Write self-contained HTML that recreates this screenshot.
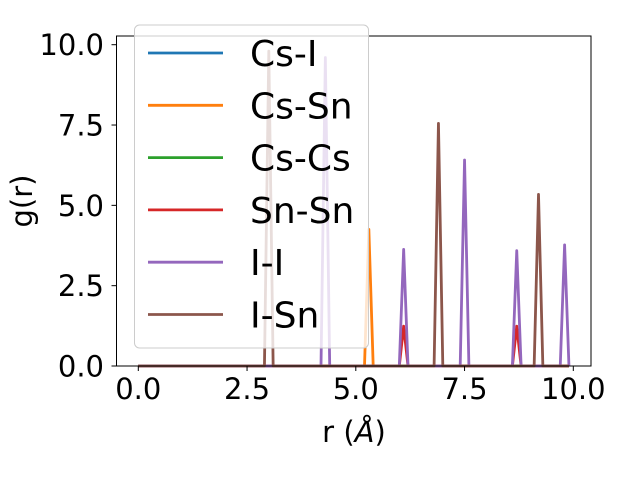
<!DOCTYPE html>
<html><head><meta charset="utf-8">
<style>
html,body{margin:0;padding:0;background:#fff;}
svg{display:block;font-family:"DejaVu Sans","Liberation Sans",sans-serif;}
</style></head>
<body>
<svg id="chart" width="640" height="480" viewBox="0 0 640 480">
<rect x="0" y="0" width="640" height="480" fill="#fff"/>
<g id="lines"></g>
<rect x="116.5" y="36" width="474.5" height="330" fill="none" stroke="#000" stroke-width="1"/>
<g id="xticks"></g>
<g id="yticks"></g>
<text x="354" y="442" font-size="29" text-anchor="middle">r (<tspan font-style="italic">Å</tspan>)</text>
<text transform="translate(32,201) rotate(-90)" font-size="29" text-anchor="middle">g(r)</text>
<g id="legend"></g>
</svg>
<script>
const seriesNames = ["Cs-I","Cs-Sn","Cs-Cs","Sn-Sn","I-I","I-Sn"];
const seriesColors = ["#1f77b4","#ff7f0e","#2ca02c","#d62728","#9467bd","#8c564b"];
// peaks: [r, g] on a 0.1 grid, zero elsewhere
const peaksCsI = [];
const peaksCsSn = [[5.3,4.25]];
const peaksCsCs = [];
const peaksSnSn = [[6.1,1.24],[8.7,1.24]];
const peaksII = [[4.3,9.6],[6.1,3.63],[7.5,6.41],[8.7,3.59],[9.8,3.77]];
const peaksISn = [[3.0,9.8],[6.9,7.55],[9.2,5.34]];
const xTicks = [0,2.5,5,7.5,10];
const xTickLabels = ["0.0","2.5","5.0","7.5","10.0"];
const yTicks = [0,2.5,5,7.5,10];
const yTickLabels = ["0.0","2.5","5.0","7.5","10.0"];
const rMax = 9.9, dr = 0.1;

const NS = "http://www.w3.org/2000/svg";
const X = v => 138.3 + v * 43.5;
const Y = v => 366 - v * 32.13;

const allPeaks = [peaksCsI,peaksCsSn,peaksCsCs,peaksSnSn,peaksII,peaksISn];
const lines = document.getElementById("lines");
allPeaks.forEach((pk, si) => {
  const n = Math.round(rMax/dr);
  const pts = [];
  for (let i = 0; i <= n; i++) {
    const r = i*dr;
    let g = 0;
    pk.forEach(p => { if (Math.abs(p[0]-r) < dr/2) g = p[1]; });
    pts.push(X(r).toFixed(2)+","+Y(g).toFixed(2));
  }
  const pl = document.createElementNS(NS,"polyline");
  pl.setAttribute("points", pts.join(" "));
  pl.setAttribute("fill","none");
  pl.setAttribute("stroke", seriesColors[si]);
  pl.setAttribute("stroke-width","2.8");
  pl.setAttribute("stroke-linejoin","round");
  
  
  lines.appendChild(pl);
});

const xg = document.getElementById("xticks");
xTicks.forEach((t,i) => {
  const l = document.createElementNS(NS,"line");
  l.setAttribute("x1",X(t)); l.setAttribute("x2",X(t));
  l.setAttribute("y1",366); l.setAttribute("y2",371);
  l.setAttribute("stroke","#000");
  
  
  xg.appendChild(l);
  const tx = document.createElementNS(NS,"text");
  tx.setAttribute("x",X(t)); tx.setAttribute("y",399);
  tx.setAttribute("font-size","29"); tx.setAttribute("text-anchor","middle");
  tx.textContent = xTickLabels[i];
  
  
  xg.appendChild(tx);
});
const yg = document.getElementById("yticks");
yTicks.forEach((t,i) => {
  const l = document.createElementNS(NS,"line");
  l.setAttribute("x1",111.5); l.setAttribute("x2",116.5);
  l.setAttribute("y1",Y(t)); l.setAttribute("y2",Y(t));
  l.setAttribute("stroke","#000");
  
  
  yg.appendChild(l);
  const tx = document.createElementNS(NS,"text");
  tx.setAttribute("x",104); tx.setAttribute("y",Y(t)+10.5);
  tx.setAttribute("font-size","29"); tx.setAttribute("text-anchor","end");
  tx.textContent = yTickLabels[i];
  
  
  yg.appendChild(tx);
});

const lg = document.getElementById("legend");
const box = document.createElementNS(NS,"rect");
box.setAttribute("x",134.5); box.setAttribute("y",25);
box.setAttribute("width",234); box.setAttribute("height",323);
box.setAttribute("rx",5);
box.setAttribute("fill","rgba(255,255,255,0.8)");
box.setAttribute("stroke","#ccc");


lg.appendChild(box);
seriesNames.forEach((nm,i) => {
  const cy = 53 + i*52.3;
  const l = document.createElementNS(NS,"line");
  l.setAttribute("x1",148); l.setAttribute("x2",223);
  l.setAttribute("y1",cy); l.setAttribute("y2",cy);
  l.setAttribute("stroke",seriesColors[i]); l.setAttribute("stroke-width","2.8");
  
  
  lg.appendChild(l);
  const tx = document.createElementNS(NS,"text");
  tx.setAttribute("x",250); tx.setAttribute("y",cy+13);
  tx.setAttribute("font-size","36");
  tx.textContent = nm;
  
  
  lg.appendChild(tx);
});
</script>
</body></html>
